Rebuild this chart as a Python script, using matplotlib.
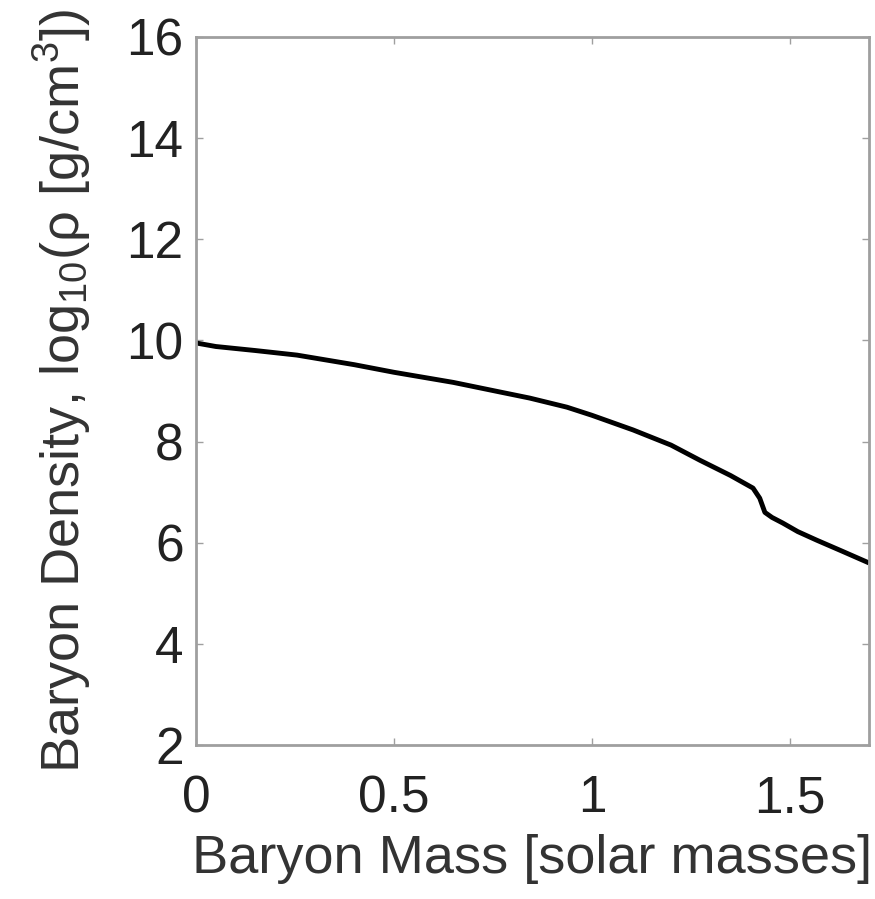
import matplotlib
matplotlib.use("Agg")
import matplotlib.pyplot as plt

# Baryon mass [solar masses] vs log10 density
mass = [0.0, 0.05, 0.15, 0.255, 0.4, 0.5, 0.65, 0.768, 0.843, 0.937, 1.0,
        1.104, 1.2, 1.273, 1.35, 1.407, 1.424, 1.437, 1.455, 1.482, 1.52,
        1.568, 1.63, 1.7]
log_rho = [9.95, 9.88, 9.80, 9.71, 9.52, 9.37, 9.17, 8.98, 8.86, 8.68, 8.52,
           8.23, 7.93, 7.63, 7.33, 7.08, 6.88, 6.60, 6.50, 6.39, 6.22,
           6.05, 5.84, 5.60]

xticks = [0, 0.5, 1, 1.5]
xticklabels = ["0", "0.5", "1", "1.5"]
yticks = [2, 4, 6, 8, 10, 12, 14, 16]

plt.rcParams["font.family"] = ["Liberation Sans", "DejaVu Sans"]
plt.rcParams["mathtext.default"] = "regular"

fig = plt.figure(figsize=(8.75, 8.99), dpi=100)
ax = fig.add_axes([196 / 875, 1 - 745 / 899, 673 / 875, 708 / 899])

ax.plot(mass, log_rho, color="black", linewidth=3.5, solid_capstyle="butt")

ax.set_xlim(0, 1.7)
ax.set_ylim(2, 16)
ax.set_xticks(xticks)
ax.set_xticklabels(xticklabels)
ax.set_yticks(yticks)

for side in ["top", "bottom", "left", "right"]:
    ax.spines[side].set_color("#9f9f9f")
    ax.spines[side].set_linewidth(2)

ax.tick_params(direction="in", length=5, width=1, color="#9f9f9f",
               labelsize=37, labelcolor="#222222", top=True, right=True)
ax.tick_params(axis="x", pad=21)
ax.tick_params(axis="y", pad=9)

ax.set_xlabel("Baryon Mass [solar masses]", fontsize=39, color="#333333",
              labelpad=8)
ax.set_ylabel("Baryon Density, log$_{10}$(ρ [g/cm$^3$])", fontsize=39,
              color="#333333", labelpad=24)

fig.savefig("out.png", dpi=100)
